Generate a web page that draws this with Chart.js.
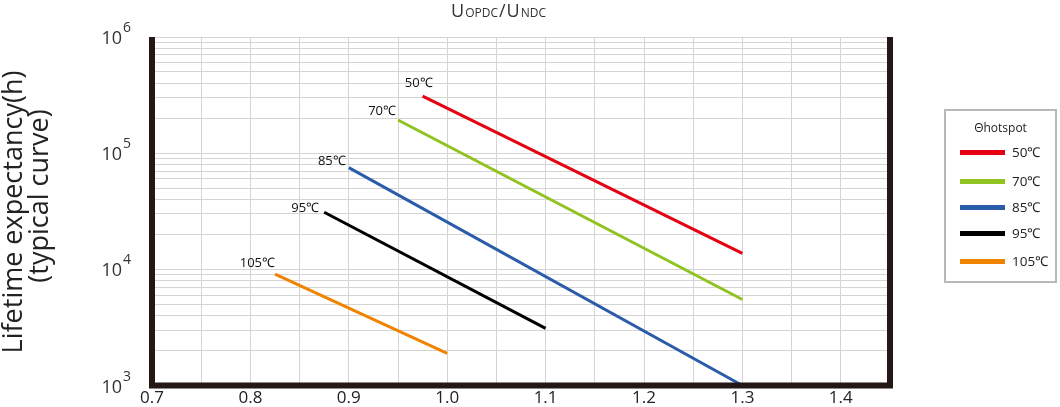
<!DOCTYPE html>
<html>
<head>
<meta charset="utf-8">
<script src="https://cdn.jsdelivr.net/npm/chart.js@4.4.1/dist/chart.umd.min.js"></script>
<style>
    html, body { margin: 0; padding: 0; background: #fff; }
    #wrap { position: relative; width: 1060px; height: 407px; }
    #legend {
        position: absolute; left: 944px; top: 109px; width: 109px; height: 170px;
        border: 2px solid #b8b8b8; font-family: "Open Sans", sans-serif; color: #222;
    }
    #legend .ttl { position: absolute; left: 0; width: 100%; top: 8px; text-align: center; font-size: 12px; }
    #legend .item { position: absolute; left: 14px; height: 20px; }
    #legend .sw { position: absolute; left: 0; top: 8px; width: 45px; height: 5px; }
    #legend .lb { position: absolute; left: 52px; top: 0; font-size: 13.5px; line-height: 20px; white-space: nowrap; }
</style>
</head>
<body>
<div id="wrap">
    <canvas id="chart" width="1060" height="407"></canvas>
    <div id="legend"><div class="ttl">&Theta;hotspot</div></div>
</div>
<script>
// values (x = Uopdc/Undc, y = lifetime in hours)
var seriesLabels = ['50℃', '70℃', '85℃', '95℃', '105℃'];
var seriesColors = ['#e50012', '#8fc31f', '#2a5caa', '#000000', '#f08300'];
var ratioStart = [0.975, 0.95, 0.9, 0.875, 0.825];
var ratioEnd = [1.3, 1.3, 1.3, 1.1, 1.0];
var lifeStart = [310000, 193000, 75000, 31000, 9100];
var lifeEnd = [13700, 5500, 1000, 3100, 1890];
var xTickLabels = ['0.7', '0.8', '0.9', '1.0', '1.1', '1.2', '1.3', '1.4'];
var yTickExponents = [3, 4, 5, 6];
var yGridMantissas = [1, 2, 3, 4, 5, 6, 7, 8, 9];

// where the temperature labels sit relative to each line's first point
var labelOffsets = [[10, -13], [-2, -9], [-3, -6], [-5, -4], [0, -11]];
var legendRows = [41, 70, 96, 122, 150];

var fontFam = '"Open Sans", sans-serif';
var frameColor = '#231815';

var datasets = seriesLabels.map(function (name, i) {
    return {
        label: name,
        data: [{ x: ratioStart[i], y: lifeStart[i] }, { x: ratioEnd[i], y: lifeEnd[i] }],
        borderColor: seriesColors[i],
        backgroundColor: seriesColors[i],
        borderWidth: 3,
        pointRadius: 0,
        fill: false,
        clip: false
    };
});

var legend = document.getElementById('legend');
seriesLabels.forEach(function (name, i) {
    var item = document.createElement('div');
    item.className = 'item';
    item.style.top = (legendRows[i] - 10) + 'px';
    item.innerHTML = '<div class="sw" style="background:' + seriesColors[i] + '"></div><div class="lb">' + name + '</div>';
    legend.appendChild(item);
});

var decorPlugin = {
    id: 'decor',
    afterDraw: function (chart) {
        var ctx = chart.ctx;
        var area = chart.chartArea;
        var ys = chart.scales.y;
        ctx.save();

        // heavy frame on left, bottom and right
        ctx.strokeStyle = frameColor;
        ctx.lineWidth = 6;
        ctx.beginPath();
        ctx.moveTo(area.left, area.top);
        ctx.lineTo(area.left, area.bottom);
        ctx.lineTo(area.right, area.bottom);
        ctx.lineTo(area.right, area.top);
        ctx.stroke();

        // y tick labels 10^n
        ctx.fillStyle = '#333';
        ctx.textBaseline = 'alphabetic';
        yTickExponents.forEach(function (e) {
            var py = ys.getPixelForValue(Math.pow(10, e));
            ctx.font = '18px ' + fontFam;
            ctx.textAlign = 'right';
            ctx.fillText('10', 122, py + 7);
            ctx.font = '14px ' + fontFam;
            ctx.textAlign = 'left';
            ctx.fillText(String(e), 123, py - 5);
        });

        // y axis title
        ctx.fillStyle = '#222';
        ctx.font = '27px ' + fontFam;
        ctx.textAlign = 'center';
        ctx.textBaseline = 'middle';
        ctx.save();
        ctx.translate(14, 212);
        ctx.rotate(-Math.PI / 2);
        ctx.fillText('Lifetime expectancy(h)', 0, 0);
        ctx.restore();
        ctx.save();
        ctx.translate(40, 196);
        ctx.rotate(-Math.PI / 2);
        ctx.fillText('(typical curve)', 0, 0);
        ctx.restore();

        // top title Uopdc/Undc in small caps
        var parts = [['U', 18], ['OPDC', 12], ['/', 18], ['U', 18], ['NDC', 12]];
        ctx.fillStyle = '#333';
        ctx.textAlign = 'left';
        ctx.textBaseline = 'alphabetic';
        var total = 0;
        parts.forEach(function (p) { ctx.font = p[1] + 'px ' + fontFam; total += ctx.measureText(p[0]).width + 1; });
        var tx = 499 - total / 2;
        parts.forEach(function (p) {
            ctx.font = p[1] + 'px ' + fontFam;
            ctx.fillText(p[0], tx, 17);
            tx += ctx.measureText(p[0]).width + 1;
        });

        // temperature labels at each line start
        ctx.font = '13px ' + fontFam;
        ctx.fillStyle = '#111';
        ctx.textAlign = 'right';
        ctx.textBaseline = 'middle';
        chart.data.datasets.forEach(function (ds, i) {
            var pt = chart.getDatasetMeta(i).data[0];
            ctx.fillText(ds.label, pt.x + labelOffsets[i][0], pt.y + labelOffsets[i][1]);
        });
        ctx.restore();
    }
};

new Chart(document.getElementById('chart'), {
    type: 'line',
    data: { datasets: datasets },
    options: {
        responsive: false,
        animation: false,
        devicePixelRatio: 1,
        layout: { padding: { top: 37, right: 170, left: 0, bottom: 0 } },
        plugins: {
            legend: { display: false },
            tooltip: { enabled: false }
        },
        scales: {
            x: {
                type: 'linear',
                min: 0.7,
                max: 1.45,
                border: { display: false },
                grid: { color: '#d4d4d4', lineWidth: 1, drawTicks: false },
                ticks: {
                    stepSize: 0.05,
                    autoSkip: false,
                    maxRotation: 0,
                    padding: 2,
                    color: '#222',
                    font: { family: fontFam, size: 17 },
                    callback: function (v) {
                        var s = Number(v).toFixed(1);
                        var hundredths = Math.round(v * 100);
                        return (hundredths % 10 === 0 && xTickLabels.indexOf(s) >= 0) ? s : '';
                    }
                },
                afterFit: function (s) { s.height = 407 - 385.5; }
            },
            y: {
                type: 'logarithmic',
                min: 1000,
                max: 1000000,
                border: { display: false },
                grid: { color: '#d4d4d4', lineWidth: 1, drawTicks: false },
                ticks: { display: false, autoSkip: false },
                afterBuildTicks: function (s) {
                    var t = [];
                    yTickExponents.forEach(function (e) {
                        yGridMantissas.forEach(function (m) {
                            var v = m * Math.pow(10, e);
                            if (v <= 1000000) t.push({ value: v });
                        });
                    });
                    s.ticks = t;
                },
                afterFit: function (s) { s.width = 152; }
            }
        }
    },
    plugins: [decorPlugin]
});
</script>
</body>
</html>
